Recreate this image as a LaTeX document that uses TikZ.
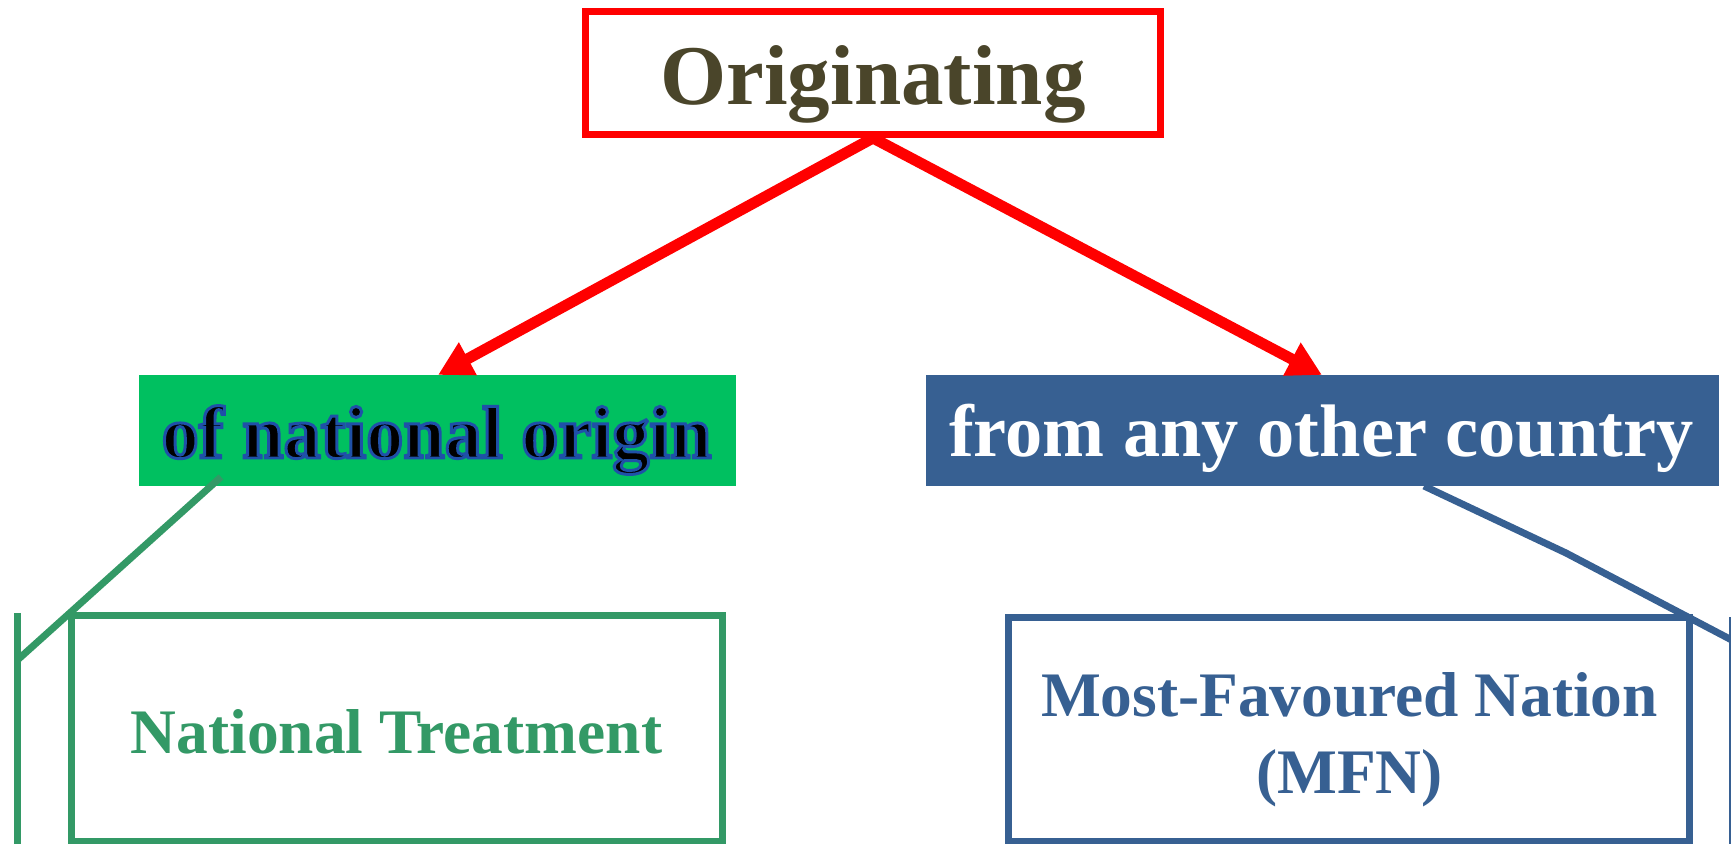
\documentclass[tikz,border=0pt]{standalone}
\usepackage{fontspec}
\setmainfont{Liberation Serif}
\newfontfamily\outlinefont[FakeBold=4]{Liberation Serif Bold}
\usetikzlibrary{arrows.meta,calc}
\definecolor{arrowred}{HTML}{FF0000}
\definecolor{olivetext}{HTML}{4A452A}
\definecolor{greenfill}{HTML}{00C060}
\definecolor{greenline}{HTML}{339966}
\definecolor{bluefill}{HTML}{376092}
\tikzset{
  origbox/.style={draw=arrowred, line width=3.5pt, inner sep=0pt},
  fillbox/.style={inner sep=0pt, minimum height=55.5pt},
  outbox/.style={line width=3.5pt, inner sep=0pt},
  redarrow/.style={draw=arrowred, line width=5.5pt, -{Triangle[length=17pt,width=17.5pt]}},
  gline/.style={draw=greenline, line width=3.5pt},
  bline/.style={draw=bluefill, line width=3.5pt},
  bigtxt/.style={inner sep=0pt, anchor=base, font=\fontsize{37.2pt}{44pt}\selectfont\bfseries},
  boxtxt/.style={inner sep=0pt, font=\fontsize{31.7pt}{38.5pt}\selectfont\bfseries, align=center}
}
\begin{document}
\begin{tikzpicture}[x=0.5pt,y=-0.5pt]
\useasboundingbox (0,0) rectangle (1731,844);
\fill[white] (0,0) rectangle (1731,844);

% top box
\node[origbox, minimum width=287.5pt, minimum height=61.5pt] (orig) at (873,73) {};
\node[inner sep=0pt, anchor=base, text=olivetext, font=\fontsize{42.5pt}{50pt}\selectfont\bfseries] (origtxt) at (873,105) {Originating};

% middle boxes
\node[fillbox, fill=greenfill, minimum width=298.5pt] (gbox) at (437.5,430.5) {};
\node[bigtxt, text=black] (gtxt) at (436.5,458) {\special{pdf:literal direct 0.122 0.314 0.66 RG}\outlinefont\fontsize{37.2pt}{44pt}\selectfont of national origin};
\node[fillbox, fill=bluefill, minimum width=396.5pt] (bbox) at (1322.5,430.5) {};
\node[bigtxt, text=white] (btxt) at (1321.5,457) {from any other country};

% arrows
\coordinate (gtip) at (438,375);
\coordinate (btip) at (1322,375);
\draw[redarrow] (orig.south) -- (gtip);
\draw[redarrow] (orig.south) -- (btip);

% bottom boxes
\node[outbox, draw=greenline, minimum width=325.75pt, minimum height=112.5pt] (ntbox) at (397,728.5) {};
\node[boxtxt, text=greenline, anchor=base] (nttxt) at (396.5,753) {National Treatment};
\node[outbox, draw=bluefill, minimum width=340.5pt, minimum height=111.5pt] (mfnbox) at (1348.5,729.5) {};
\node[boxtxt, text=bluefill] (mfntxt) at (1349.5,740) {Most-Favoured Nation\\(MFN)};

% green connector
\coordinate (gstart) at (221,477);
\coordinate (gend) at (17.5,660);
\draw[gline] (gstart) -- (gend);
\draw[gline] (17.5,613) -- (17.5,850);

% blue connector
\coordinate (bstart) at (1424,486);
\coordinate (bkink) at (1566,553);
\coordinate (bend) at (1745,647);
\draw[bline] (bstart) -- (bkink) -- (bend);
\draw[bline] (1732.5,617) -- (1732.5,850);
\end{tikzpicture}
\end{document}
